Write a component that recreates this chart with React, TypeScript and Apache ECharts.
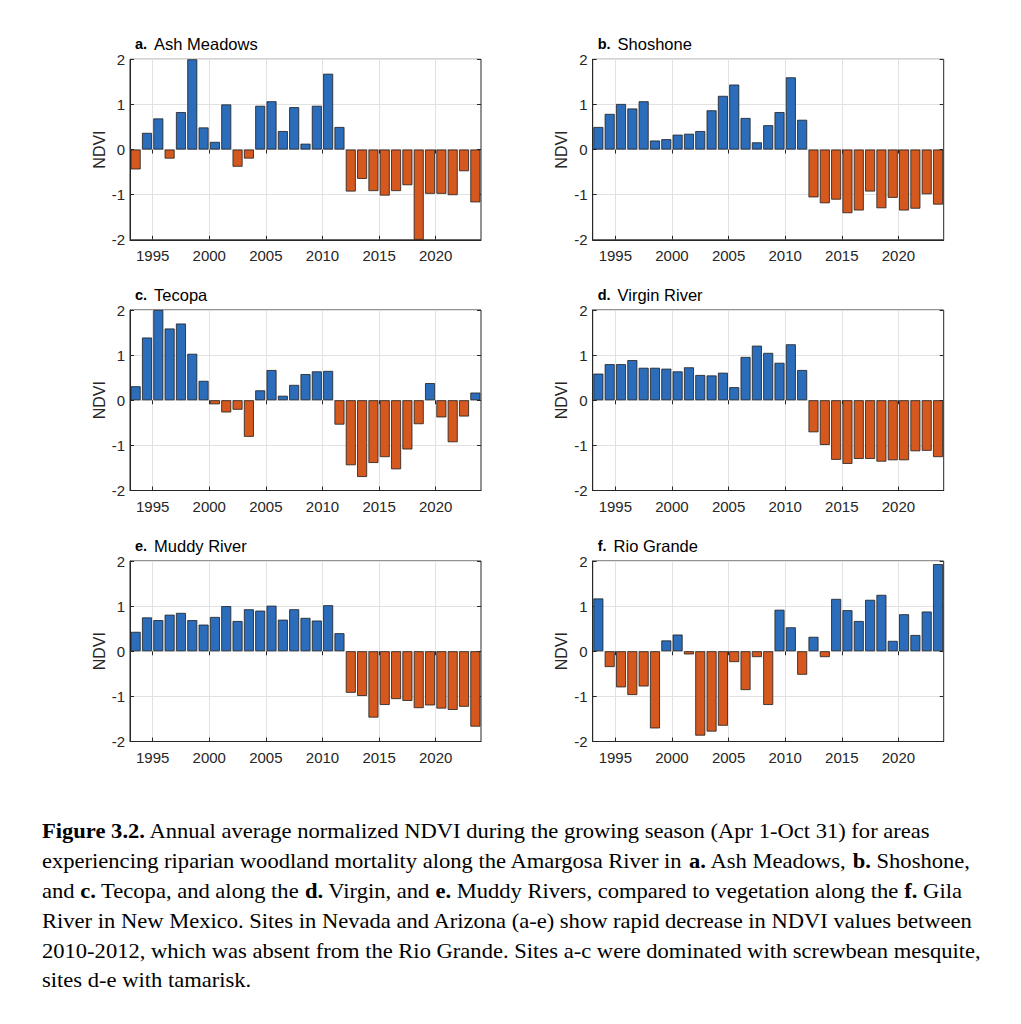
import React, { useEffect, useRef } from "react";
import * as echarts from "echarts";

// ---------------- DATA ----------------
const years = [
  1993, 1994, 1995, 1996, 1997, 1998, 1999, 2000, 2001, 2002, 2003, 2004, 2005, 2006, 2007, 2008,
  2009, 2010, 2011, 2012, 2013, 2014, 2015, 2016, 2017, 2018, 2019, 2020, 2021, 2022, 2023,
];

const ashMeadows = [
  -0.44, 0.37, 0.69, -0.2, 0.83, 2.0, 0.49, 0.17, 1.0, -0.38, -0.2, 0.97, 1.07, 0.41, 0.94, 0.13,
  0.97, 1.68, 0.5, -0.93, -0.65, -0.92, -1.02, -0.92, -0.79, -2.0, -0.98, -0.98, -1.01, -0.48, -1.17,
];
const shoshone = [
  0.5, 0.79, 1.01, 0.91, 1.07, 0.2, 0.23, 0.33, 0.35, 0.41, 0.87, 1.19, 1.44, 0.7, 0.16, 0.54,
  0.83, 1.6, 0.66, -1.06, -1.19, -1.11, -1.41, -1.35, -0.93, -1.3, -1.07, -1.35, -1.31, -0.99, -1.22,
];
const tecopa = [
  0.31, 1.39, 2.0, 1.59, 1.7, 1.03, 0.43, -0.09, -0.27, -0.21, -0.81, 0.22, 0.67, 0.1, 0.34, 0.58,
  0.64, 0.65, -0.54, -1.44, -1.7, -1.39, -1.26, -1.53, -1.09, -0.53, 0.38, -0.38, -0.93, -0.36, 0.17,
];
const virginRiver = [
  0.59, 0.8, 0.8, 0.89, 0.72, 0.72, 0.7, 0.64, 0.73, 0.56, 0.55, 0.61, 0.29, 0.96, 1.21, 1.05,
  0.83, 1.24, 0.67, -0.71, -0.99, -1.32, -1.41, -1.3, -1.3, -1.36, -1.33, -1.33, -1.13, -1.12, -1.26,
];
const muddyRiver = [
  0.43, 0.75, 0.69, 0.81, 0.85, 0.69, 0.59, 0.76, 1.0, 0.67, 0.93, 0.9, 1.01, 0.7, 0.93, 0.74,
  0.68, 1.02, 0.4, -0.92, -0.99, -1.47, -1.19, -1.06, -1.1, -1.26, -1.2, -1.27, -1.3, -1.23, -1.67,
];
const rioGrande = [
  1.17, -0.35, -0.8, -0.97, -0.78, -1.71, 0.24, 0.37, -0.07, -1.87, -1.78, -1.65, -0.24, -0.86, -0.13, -1.19,
  0.92, 0.53, -0.52, 0.32, -0.13, 1.16, 0.91, 0.67, 1.14, 1.25, 0.23, 0.82, 0.36, 0.88, 1.93,
];

const panelLetters = ["a.", "b.", "c.", "d.", "e.", "f."];
const panelNames = ["Ash Meadows", "Shoshone", "Tecopa", "Virgin River", "Muddy River", "Rio Grande"];
const panelValues = [ashMeadows, shoshone, tecopa, virginRiver, muddyRiver, rioGrande];

const xTickValues = [1995, 2000, 2005, 2010, 2015, 2020];
const yAxisLabel = "NDVI";

const captionLines: [string, boolean][][] = [
  [["Figure 3.2.", true], [" Annual average normalized NDVI during the growing season (Apr 1-Oct 31) for areas", false]],
  [["experiencing riparian woodland mortality along the Amargosa River in ", false], ["a.", true], [" Ash Meadows, ", false], ["b.", true], [" Shoshone,", false]],
  [["and ", false], ["c.", true], [" Tecopa, and along the ", false], ["d.", true], [" Virgin, and ", false], ["e.", true], [" Muddy Rivers, compared to vegetation along the ", false], ["f.", true], [" Gila", false]],
  [["River in New Mexico. Sites in Nevada and Arizona (a-e) show rapid decrease in NDVI values between", false]],
  [["2010-2012, which was absent from the Rio Grande. Sites a-c were dominated with screwbean mesquite,", false]],
  [["sites d-e with tamarisk.", false]],
];

// ---------------- STYLE / LAYOUT ----------------
const SANS = '"Liberation Sans", Arial, Helvetica, sans-serif';
const SERIF = '"Liberation Serif", "Times New Roman", serif';
const BLUE = "#2b6dba";
const ORANGE = "#d5591f";
const AXIS = "#262626";
const GRID = "#e2e2e2";

const colLefts = [130, 592.7];
const rowTops = [59.3, 310, 561];
const plotW = 351;
const plotH = 180.5;
const X_MIN = 1993;
const X_MAX = 2024;

const CAP_FONT = 22;
const CAP_X = 42;
const CAP_Y0 = 831;
const CAP_DY = 29.8;
const CAP_TARGET_W = 928;

function measureSegs(segs: [string, boolean][], size: number): number {
  const ctx = document.createElement("canvas").getContext("2d");
  if (!ctx) return 1;
  let w = 0;
  for (const [t, b] of segs) {
    ctx.font = `${b ? "bold " : ""}${size}px "Liberation Serif"`;
    w += ctx.measureText(t).width;
  }
  return w;
}

export default function App() {
  const ref = useRef<HTMLDivElement>(null);

  useEffect(() => {
    if (!ref.current) return;
    const chart = echarts.init(ref.current, undefined, { renderer: "svg" });

    const grids: any[] = [];
    const xAxes: any[] = [];
    const yAxes: any[] = [];
    const series: any[] = [];
    const graphics: any[] = [];

    panelValues.forEach((vals, i) => {
      const left = colLefts[i % 2];
      const top = rowTops[Math.floor(i / 2)];
      grids.push({
        left,
        top,
        width: plotW,
        height: plotH,
        show: true,
        borderColor: AXIS,
        borderWidth: 1,
        backgroundColor: "#ffffff",
      });
      xAxes.push({
        type: "value",
        gridIndex: i,
        position: "bottom",
        min: X_MIN,
        max: X_MAX,
        axisLine: { show: true, onZero: false, lineStyle: { color: AXIS, width: 1 } },
        axisTick: { show: true, inside: true, length: 4, customValues: xTickValues, lineStyle: { color: AXIS } },
        axisLabel: {
          show: true,
          customValues: xTickValues,
          fontSize: 15,
          fontFamily: SANS,
          color: AXIS,
          margin: 8,
          formatter: (v: number) => String(v),
        },
        splitLine: { show: true, lineStyle: { color: GRID, width: 1 } },
      });
      xAxes.push({
        type: "value",
        gridIndex: i,
        position: "top",
        min: X_MIN,
        max: X_MAX,
        axisLine: { show: false },
        axisTick: { show: true, inside: true, length: 4, customValues: xTickValues, lineStyle: { color: AXIS } },
        axisLabel: { show: false },
        splitLine: { show: false },
      });
      yAxes.push({
        type: "value",
        gridIndex: i,
        position: "left",
        min: -2,
        max: 2,
        interval: 1,
        name: yAxisLabel,
        nameLocation: "middle",
        nameGap: 23,
        nameRotate: 90,
        nameTextStyle: { fontSize: 16, fontFamily: SANS, color: AXIS },
        axisLine: { show: true, onZero: false, lineStyle: { color: AXIS, width: 1 } },
        axisTick: { show: true, inside: true, length: 4, lineStyle: { color: AXIS } },
        axisLabel: { fontSize: 15, fontFamily: SANS, color: AXIS, margin: 5 },
        splitLine: { show: true, lineStyle: { color: GRID, width: 1 } },
      });
      yAxes.push({
        type: "value",
        gridIndex: i,
        position: "right",
        min: -2,
        max: 2,
        interval: 1,
        axisLine: { show: false },
        axisTick: { show: true, inside: true, length: 4, lineStyle: { color: AXIS } },
        axisLabel: { show: false },
        splitLine: { show: false },
      });
      series.push({
        type: "bar",
        xAxisIndex: i * 2,
        yAxisIndex: i * 2,
        barWidth: 10,
        itemStyle: { borderColor: "#1e1e1e", borderWidth: 0.8 },
        data: years.map((y, k) => ({
          value: [y + 0.5, vals[k]],
          itemStyle: { color: vals[k] >= 0 ? BLUE : ORANGE },
        })),
      });
      graphics.push({
        type: "text",
        x: left + 5,
        y: top - 15,
        style: {
          text: `{b|${panelLetters[i]}}{n|${panelNames[i]}}`,
          verticalAlign: "middle",
          fill: "#000",
          rich: {
            b: { fontWeight: "bold", fontSize: 14.5, fontFamily: SANS, fill: "#000", padding: [0, 7, 0, 0] },
            n: { fontSize: 16.5, fontFamily: SANS, fill: "#000" },
          },
        },
      });
    });

    const refW = measureSegs(captionLines[1], CAP_FONT);
    const sx = refW > 0 ? CAP_TARGET_W / refW : 1;

    captionLines.forEach((segs, li) => {
      const text = segs.map(([t, b]) => (b ? `{b|${t}}` : t)).join("");
      graphics.push({
        type: "text",
        x: CAP_X,
        y: CAP_Y0 + li * CAP_DY,
        scaleX: sx,
        style: {
          text,
          fontSize: CAP_FONT,
          fontFamily: SERIF,
          fill: "#000",
          verticalAlign: "middle",
          rich: {
            b: { fontWeight: "bold", fontSize: CAP_FONT, fontFamily: SERIF, fill: "#000" },
          },
        },
      });
    });

    chart.setOption({
      animation: false,
      backgroundColor: "#ffffff",
      textStyle: { fontFamily: SANS },
      grid: grids,
      xAxis: xAxes,
      yAxis: yAxes,
      series,
      graphic: graphics,
    });

    return () => chart.dispose();
  }, []);

  return (
    <div
      ref={ref}
      style={{ position: "absolute", left: 0, top: 0, width: 1021, height: 1024, background: "#fff" }}
    />
  );
}
